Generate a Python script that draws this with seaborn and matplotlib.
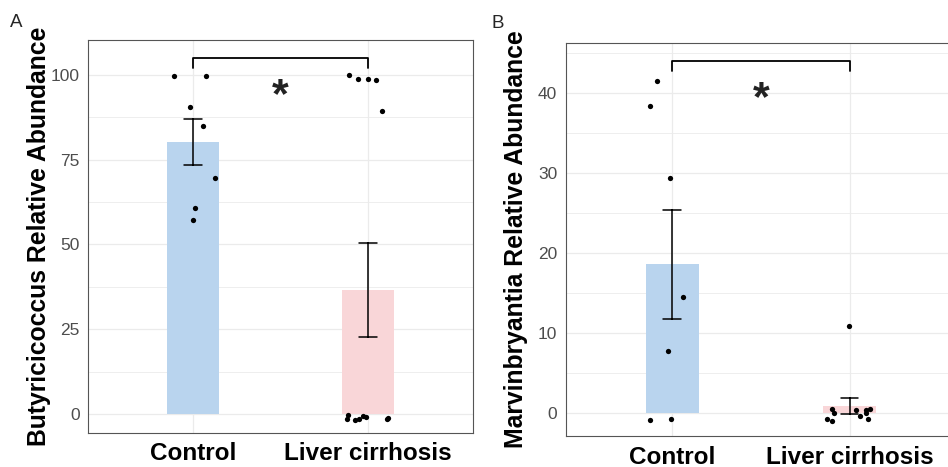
# -*- coding: utf-8 -*-
import numpy as np
import pandas as pd
import matplotlib
matplotlib.use('Agg')
import matplotlib.pyplot as plt
from matplotlib.ticker import MultipleLocator
import seaborn as sns

#%% dados
grupos = ['Control', 'Liver cirrhosis']
cores = ['#b9d4ee', '#f9d6d8']

# painel A - Butyricicoccus
buty_control = [99.6, 99.6, 90.5, 85.0, 69.5, 60.9, 57.1]
buty_cirrose = [100.0, 98.8, 98.7, 98.4, 89.3,
                -0.6, -0.4, -1.4, -1.6, -1.8, -0.8, -1.2, -1.4]

# painel B - Marvinbryantia
marv_control = [41.5, 38.4, 29.4, 14.5, 7.7, -0.8, -0.9]
marv_cirrose = [10.8, 0.4, 0.0, -0.4, -1.0, -0.8, 0.3, 0.0, 0.3, -0.8, 0.4]

ticks_a = [0, 25, 50, 75, 100]
ticks_b = [0, 10, 20, 30, 40]

#%% estilo
sns.set_style('white')
plt.rcParams['font.family'] = ['Liberation Sans', 'DejaVu Sans']

fig = plt.figure(figsize=(9.48, 4.67), dpi=100)
ax_a = fig.add_axes([88/948, 1-432.7/467, 385.3/948, 392.7/467])
ax_b = fig.add_axes([565.7/948, 1-436/467, 390.3/948, 393.3/467])


def painel(ax, controle, cirrose, rotulo, ticks, ylim, menor, y_colchete, queda, semente):
    df = pd.DataFrame({'grupo': ['Control']*len(controle) + ['Liver cirrhosis']*len(cirrose),
                       'valor': controle + cirrose})
    sns.barplot(data=df, x='grupo', y='valor', hue='grupo', order=grupos,
                hue_order=grupos, palette=cores, saturation=1, width=0.3, linewidth=0,
                errorbar='se', capsize=0.1, legend=False,
                err_kws={'color': 'black', 'linewidth': 1.1}, ax=ax)
    np.random.seed(semente)
    sns.stripplot(data=df, x='grupo', y='valor', order=grupos, color='black',
                  size=3.8, jitter=0.13, ax=ax, zorder=5)
    ax.set_xlim(-0.6, 1.6)
    ax.set_ylim(*ylim)
    ax.set_yticks(ticks)
    ax.yaxis.set_minor_locator(MultipleLocator(menor))
    ax.set_axisbelow(True)
    ax.grid(True, which='major', color='#ebebeb', linewidth=0.9)
    ax.grid(True, which='minor', axis='y', color='#ebebeb', linewidth=0.6)
    for s in ax.spines.values():
        s.set_color('#555555')
        s.set_linewidth(0.8)
    ax.tick_params(axis='y', which='major', length=2.5, width=0.8, color='#333333',
                   labelsize=12.5, labelcolor='#4d4d4d', pad=3.5)
    ax.tick_params(axis='x', which='major', length=2.5, width=0.8, color='#333333',
                   labelsize=17.5, labelcolor='black', pad=4.5)
    ax.tick_params(which='minor', length=0)
    for t in ax.get_xticklabels():
        t.set_fontweight('bold')
    ax.set_xlabel('')
    ax.set_ylabel(rotulo, fontsize=17.8, fontweight='bold', color='black')
    ax.yaxis.set_label_coords(-0.096, 0.5)
    # colchete de significancia
    ax.plot([0, 0, 1, 1], [y_colchete - queda, y_colchete, y_colchete, y_colchete - queda],
            color='black', linewidth=1.3, clip_on=False)
    ax.annotate('*', xy=(0.5, y_colchete), xytext=(0, -13), textcoords='offset points',
                ha='center', va='top', fontsize=31, fontweight='bold', color='#222222')


painel(ax_a, buty_control, buty_cirrose, 'Butyricicoccus Relative Abundance',
       ticks_a, (-5.5, 110.3), 12.5, 104.9, 2.9, 7)
painel(ax_b, marv_control, marv_cirrose, 'Marvinbryantia Relative Abundance',
       ticks_b, (-2.92, 46.3), 5, 44.05, 1.25, 11)

fig.text(10/948, 1-27/467, 'A', fontsize=13.5, va='baseline', ha='left')
fig.text(491.5/948, 1-28/467, 'B', fontsize=13.5, va='baseline', ha='left')

fig.savefig('out.png', dpi=100)
